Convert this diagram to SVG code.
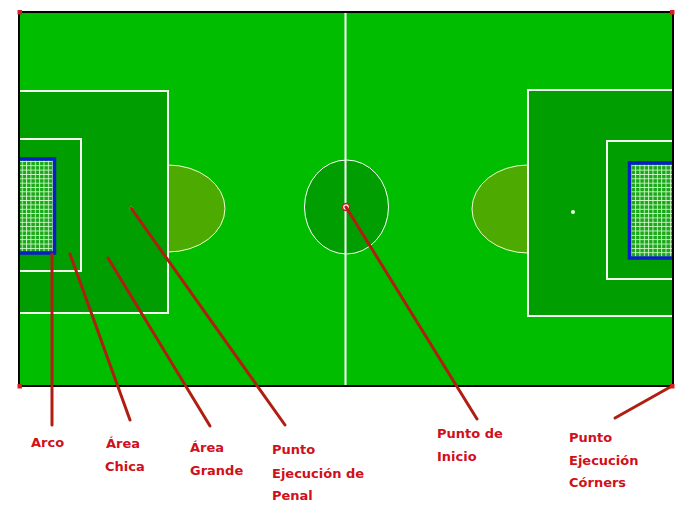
<svg xmlns="http://www.w3.org/2000/svg" width="700" height="516" viewBox="0 0 700 516">
<defs>
<style>
.line{stroke:#fff;stroke-width:2;fill:none}
.area{fill:#009e00;stroke:#f4fff0;stroke-width:2}
.arc{fill:#4caa00;stroke:#f0ffd0;stroke-width:1}
.net{fill:url(#net)}
.goal{fill:none;stroke:#0a1ec8;stroke-width:3.5}
.lead{stroke:#b01e12;stroke-width:3;fill:none;stroke-linecap:round}
.lbl{font-family:"DejaVu Sans","Liberation Sans",sans-serif;font-weight:bold;font-size:13px;fill:#d0101a}
.corner{fill:#d42020}
</style>
<pattern id="net" x="0" y="0" width="4.35" height="4.35" patternUnits="userSpaceOnUse">
<rect width="4.35" height="4.35" fill="#1aa81a"/>
<path d="M0,0.5H4.35M0.5,0V4.35" stroke="#d0f8c8" stroke-width="0.9"/>
</pattern>
</defs>
<rect width="700" height="516" fill="#fff"/>
<g id="pitch">
<rect x="19" y="12" width="654" height="374" fill="#00bd00"/>
</g>
<g id="left-half">
<path class="arc" d="M168,165 A57,43.5 0 0 1 168,252 Z"/>
<rect class="area" x="19" y="91" width="149" height="222"/>
<rect class="area" x="19" y="139" width="62" height="132"/>
<rect class="net" x="19" y="159" width="35" height="94"/>
<path class="goal" d="M19,159 H54.5 V253 H19"/>
<circle cx="131" cy="208" r="1.5" fill="#fff"/>
</g>
<g id="right-half">
<path class="arc" d="M528,165 A56,44 0 0 0 528,253 Z"/>
<rect class="area" x="528" y="90" width="145" height="226"/>
<rect class="area" x="607" y="141" width="66" height="138"/>
<rect class="net" x="629.5" y="163" width="43.5" height="95"/>
<path class="goal" d="M673,163 H629.5 V258 H673"/>
<circle cx="573" cy="212" r="2" fill="#e8ffe0"/>
</g>
<g id="center">
<ellipse cx="346.5" cy="207" rx="42" ry="47" fill="#009e00" stroke="#fff" stroke-width="1"/>
<line class="line" x1="345.5" y1="12" x2="345.5" y2="386"/>
<circle cx="346" cy="207" r="3.5" fill="#fff" stroke="#c02020" stroke-width="1.5"/>
</g>
<g id="border">
<rect x="19" y="12" width="654" height="374" fill="none" stroke="#000" stroke-width="2"/>
</g>
<g id="connectors">
<line class="lead" x1="52" y1="254" x2="52" y2="425"/>
<line class="lead" x1="70" y1="254" x2="130" y2="420"/>
<line class="lead" x1="108" y1="258" x2="210" y2="426"/>
<line class="lead" x1="131" y1="208" x2="285" y2="425"/>
<line class="lead" x1="346" y1="207" x2="477" y2="419"/>
<line class="lead" x1="672" y1="386" x2="615" y2="418"/>
</g>
<g id="corners">
<rect class="corner" x="17.5" y="10" width="4.5" height="4.5"/>
<rect class="corner" x="670" y="10" width="4.5" height="4.5"/>
<rect class="corner" x="17.5" y="384" width="4.5" height="4.5"/>
<rect class="corner" x="670" y="384" width="4.5" height="4.5"/>
</g>
<g id="label-arco"><text class="lbl" x="31" y="447">Arco</text></g>
<g id="label-area-chica"><text class="lbl" x="106" y="448">Área</text><text class="lbl" x="105" y="471">Chica</text></g>
<g id="label-area-grande"><text class="lbl" x="190" y="452">Área</text><text class="lbl" x="190" y="475">Grande</text></g>
<g id="label-penal"><text class="lbl" x="272" y="454">Punto</text><text class="lbl" x="272" y="478">Ejecución de</text><text class="lbl" x="272" y="500">Penal</text></g>
<g id="label-inicio"><text class="lbl" x="437" y="438">Punto de</text><text class="lbl" x="437" y="461">Inicio</text></g>
<g id="label-corners"><text class="lbl" x="569" y="442">Punto</text><text class="lbl" x="569" y="465">Ejecución</text><text class="lbl" x="569" y="487">Córners</text></g>
</svg>
